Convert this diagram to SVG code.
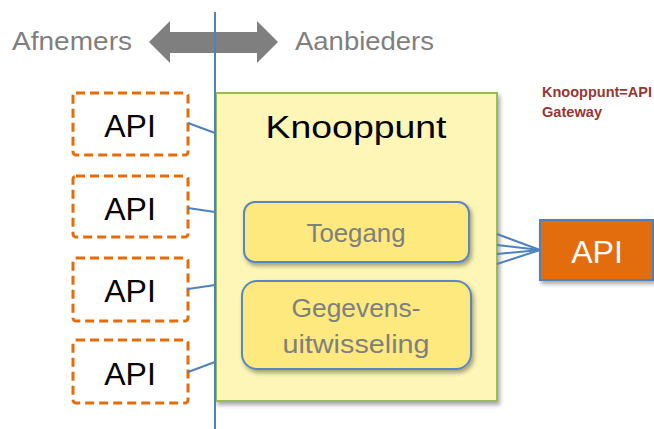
<svg xmlns="http://www.w3.org/2000/svg" width="654" height="429" viewBox="0 0 654 429">
<defs>
<filter id="sh" x="-10%" y="-10%" width="130%" height="130%">
<feDropShadow dx="2" dy="3" stdDeviation="2" flood-color="#000" flood-opacity="0.35"/>
</filter>
</defs>
<style>
text{font-family:"Liberation Sans",Arial,sans-serif}
.side{font-size:26px;fill:#7f7f7f}
.dash{fill:#fff;stroke:#e46c0a;stroke-width:3;stroke-dasharray:9 5}
.api{font-size:32px;fill:#000;text-anchor:middle}
.inner{fill:#fde97e;stroke:#5a86bf;stroke-width:2}
.itxt{font-size:25px;fill:#7f7f7f;text-anchor:middle}
.conn{stroke:#4f81bd;stroke-width:2;fill:none}
</style>
<rect width="654" height="429" fill="#fff"/>
<g id="header">
<text class="side" x="12" y="50" textLength="120" lengthAdjust="spacingAndGlyphs">Afnemers</text>
<text class="side" x="295" y="50" textLength="139" lengthAdjust="spacingAndGlyphs">Aanbieders</text>
<polygon points="149,42 170,21 170,32 257,32 257,21 278,42 257,63 257,53 170,53 170,63" fill="#7f7f7f"/>
</g>
<g id="knooppunt">
<rect x="216" y="93" width="281" height="308" fill="#fdf6b6" stroke="#9bbb59" stroke-width="2" filter="url(#sh)"/>
<text x="356" y="138" font-size="32" text-anchor="middle" textLength="181" lengthAdjust="spacingAndGlyphs">Knooppunt</text>
</g>
<g id="toegang">
<rect class="inner" x="244" y="202" width="225" height="60" rx="11" filter="url(#sh)"/>
<text class="itxt" x="356" y="242" textLength="99" lengthAdjust="spacingAndGlyphs">Toegang</text>
</g>
<g id="gegevens">
<rect class="inner" x="242" y="281" width="229" height="88" rx="15" filter="url(#sh)"/>
<text class="itxt" x="356" y="317" textLength="129" lengthAdjust="spacingAndGlyphs">Gegevens-</text>
<text class="itxt" x="356" y="353" textLength="147" lengthAdjust="spacingAndGlyphs">uitwisseling</text>
</g>
<g id="api1"><rect class="dash" x="73" y="93" width="115" height="62" rx="3"/><text class="api" x="130" y="137">API</text></g>
<g id="api2"><rect class="dash" x="73" y="176" width="115" height="61" rx="3"/><text class="api" x="130" y="220">API</text></g>
<g id="api3"><rect class="dash" x="73" y="258" width="115" height="63" rx="3"/><text class="api" x="130" y="302">API</text></g>
<g id="api4"><rect class="dash" x="73" y="340" width="115" height="63" rx="3"/><text class="api" x="130" y="385">API</text></g>
<g id="apiRight">
<rect x="540" y="220" width="113" height="60" fill="#e36c09" stroke="#4f81bd" stroke-width="2" filter="url(#sh)"/>
<text x="597" y="263" font-size="32" fill="#fff" text-anchor="middle">API</text>
</g>
<g id="note">
<text x="542" y="97" font-size="14" font-weight="bold" fill="#953735" textLength="110" lengthAdjust="spacingAndGlyphs">Knooppunt=API</text>
<text x="542" y="117" font-size="14" font-weight="bold" fill="#953735" textLength="60" lengthAdjust="spacingAndGlyphs">Gateway</text>
</g>
<g id="connectors">
<line class="conn" x1="215" y1="12" x2="215" y2="429"/>
<line class="conn" x1="188" y1="123" x2="215" y2="133"/>
<line class="conn" x1="188" y1="208" x2="215" y2="212"/>
<line class="conn" x1="188" y1="289" x2="215" y2="285"/>
<line class="conn" x1="188" y1="372" x2="215" y2="362"/>
<line class="conn" x1="497" y1="234" x2="540" y2="250"/>
<line class="conn" x1="497" y1="245" x2="540" y2="250"/>
<line class="conn" x1="497" y1="254" x2="540" y2="250"/>
<line class="conn" x1="497" y1="264" x2="540" y2="250"/>
</g>
</svg>
